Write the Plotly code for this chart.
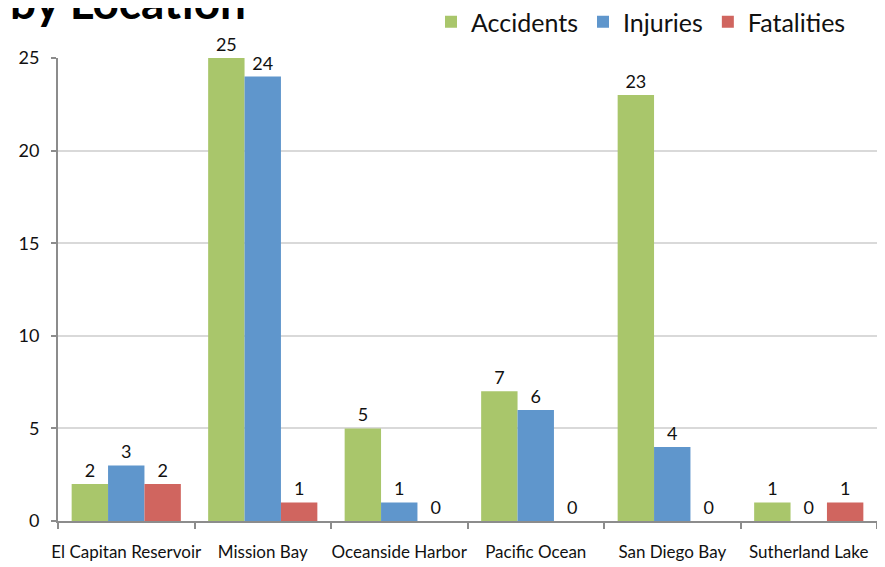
import plotly.graph_objects as go

locations = ["El Capitan Reservoir", "Mission Bay", "Oceanside Harbor", "Pacific Ocean",
             "San Diego Bay", "Sutherland Lake"]
accidents = [2, 25, 5, 7, 23, 1]
injuries = [3, 24, 1, 6, 4, 0]
fatalities = [2, 1, 0, 0, 0, 1]
y_ticks = [0, 5, 10, 15, 20, 25]

FONT = "Lato, Open Sans, sans-serif"
series = [("Accidents", accidents, "#A9C66B"),
          ("Injuries", injuries, "#5F96CC"),
          ("Fatalities", fatalities, "#D0655F")]

fig = go.Figure()
for name, vals, col in series:
    fig.add_trace(go.Bar(
        name=name, x=locations, y=vals, marker=dict(color=col, line=dict(width=0)),
        text=vals, textposition="outside", cliponaxis=False,
        textfont=dict(family=FONT, size=18, color="#111"),
    ))

# page body has an 8px margin; size the figure so it fits the window
W, H = 877, 559
ml, mr, mt, mb = 50, 8, 50, 46
pw = W - ml - mr
ph = H - mt - mb

fig.update_layout(
    width=W, height=H,
    margin=dict(l=ml, r=mr, t=mt, b=mb, autoexpand=False),
    paper_bgcolor="white", plot_bgcolor="white",
    barmode="group", bargap=0.2, bargroupgap=0,
    font=dict(family=FONT, color="#111"),
    showlegend=True,
    legend=dict(orientation="h", x=1 - 26 / pw, xanchor="right",
                y=1 + (mt + 9) / ph, yanchor="top",
                font=dict(size=25, family=FONT), itemwidth=30,
                bgcolor="rgba(0,0,0,0)", traceorder="normal"),
    xaxis=dict(showline=True, linecolor="#8c8c8c", linewidth=2, automargin=False,
               ticks="outside", tickson="boundaries", ticklen=6, tickwidth=2,
               tickcolor="#8c8c8c", tickfont=dict(size=17, family=FONT),
               ticklabelstandoff=15, tickangle=0, showgrid=False),
    yaxis=dict(range=[0, 25], tickvals=y_ticks, showline=True, linecolor="#8c8c8c",
               linewidth=2, ticks="outside", ticklen=5, tickwidth=2, tickcolor="#8c8c8c",
               tickfont=dict(size=18, family=FONT), ticklabelstandoff=8,
               showgrid=True, gridcolor="#d9d9d9",
               gridwidth=1.5, zeroline=False, automargin=False),
)

fig.add_annotation(text="<b>by Location</b>", xref="paper", yref="paper",
                   x=-ml / pw, y=1 + (mt + 7) / ph,
                   xanchor="left", yanchor="middle", showarrow=False,
                   font=dict(size=46, family=FONT, color="#000"))

fig.write_html("out.html")
